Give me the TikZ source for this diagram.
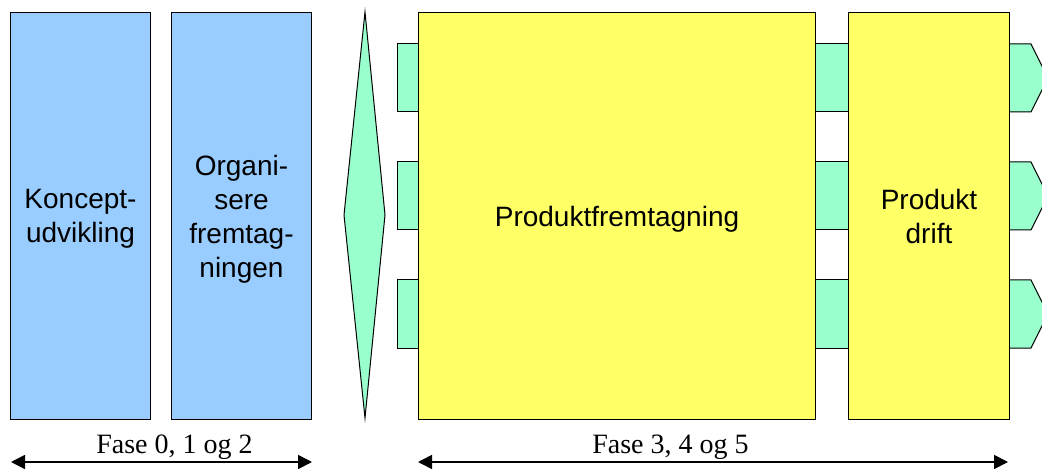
\documentclass[tikz,border=0pt]{standalone}
\usepackage{fontspec}
\setmainfont{Liberation Serif}
\setsansfont{Liberation Sans}
\usetikzlibrary{arrows.meta}
\definecolor{LBlue}{rgb}{0.6,0.8,1}
\definecolor{LYellow}{rgb}{1,1,0.4}
\definecolor{LGreen}{rgb}{0.6,1,0.8}
\tikzset{fasebox/.style={draw,line width=.75pt,inner sep=0pt,anchor=north west,
  minimum height=305.25pt,align=center,text depth=0pt,
  font=\sffamily\fontsize{21}{25.5}\selectfont},
  tab/.style={draw,line width=.75pt,fill=LGreen},
  fasetxt/.style={anchor=base,inner sep=0pt,font=\fontsize{21}{25}\selectfont},
  span/.style={line width=1.2pt,{Triangle[length=10.5pt,width=10.5pt]}-{Triangle[length=10.5pt,width=10.5pt]}}}

\begin{document}
\begin{tikzpicture}[x=0.75pt,y=-0.75pt]
\useasboundingbox (0,0) rectangle (1042,470);
\clip (0,0) rectangle (1042,470);

\foreach \y in {44,162,280}{
  \filldraw[tab] (397,\y) rectangle (418,\y+68);
  \filldraw[tab] (815,\y) rectangle (848,\y+68);
  \filldraw[tab] (1009,\y) -- (1031,\y) -- (1048,\y+34) -- (1031,\y+68) -- (1009,\y+68) -- cycle;
}
\filldraw[tab] (365,12) -- (385,215) -- (365,418) -- (344,215) -- cycle;

\node[fasebox,fill=LBlue,minimum width=105pt] (konc) at (10,12) {Koncept-\\udvikling};
\node[fasebox,fill=LBlue,minimum width=105pt] (org) at (171,12) {Organi-\\sere\\fremtag-\\ningen};
\node[fasebox,fill=LYellow,minimum width=297.75pt] (frem) at (418,12) {Produktfremtagning};
\node[fasebox,fill=LYellow,minimum width=120.75pt] (drift) at (848,12) {Produkt\\drift};

\coordinate (a0) at (11,462);
\coordinate (a1) at (312,462);
\coordinate (b0) at (418,462);
\coordinate (b1) at (1008,462);
\draw[span] (a0) -- (a1);
\draw[span] (b0) -- (b1);
\node[fasetxt] (f012) at (174.5,453) {Fase 0, 1 og 2};
\node[fasetxt] (f345) at (670.5,453) {Fase 3, 4 og 5};

\end{tikzpicture}
\end{document}
